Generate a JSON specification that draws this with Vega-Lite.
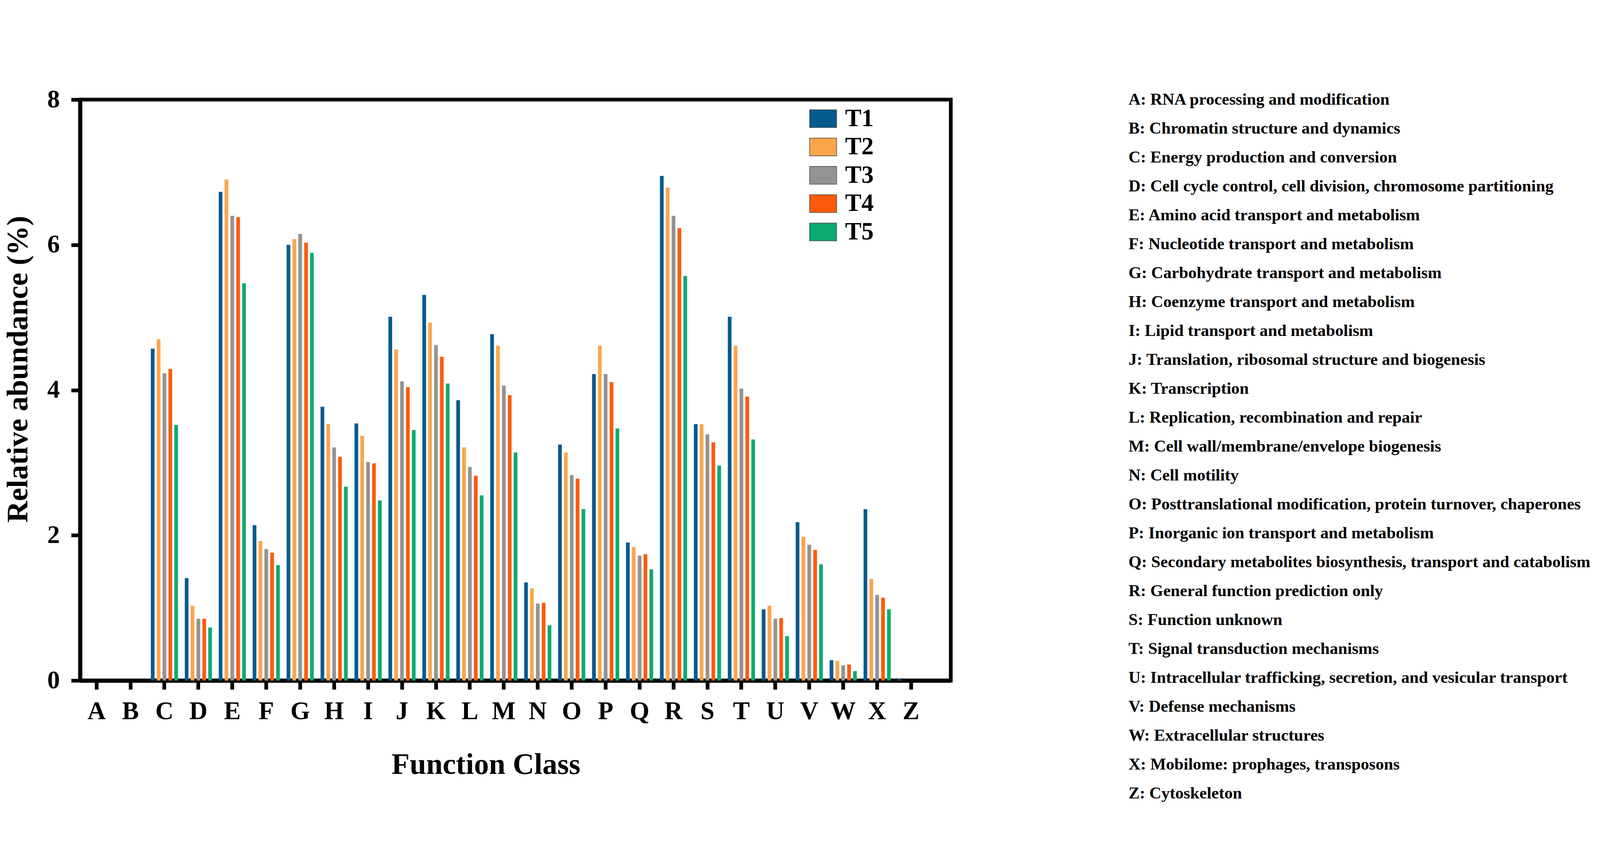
{
  "$schema": "https://vega.github.io/schema/vega-lite/v6.json",
  "background": "white",
  "padding": {"left": 3, "top": 217, "right": 3, "bottom": 20},
  "spacing": 450,
  "datasets": {
    "abundance": [
      {"class": "A", "treatment": "T1", "abundance": 0}, {"class": "A", "treatment": "T2", "abundance": 0}, {"class": "A", "treatment": "T3", "abundance": 0}, {"class": "A", "treatment": "T4", "abundance": 0}, {"class": "A", "treatment": "T5", "abundance": 0},
      {"class": "B", "treatment": "T1", "abundance": 0}, {"class": "B", "treatment": "T2", "abundance": 0}, {"class": "B", "treatment": "T3", "abundance": 0}, {"class": "B", "treatment": "T4", "abundance": 0}, {"class": "B", "treatment": "T5", "abundance": 0},
      {"class": "C", "treatment": "T1", "abundance": 4.57}, {"class": "C", "treatment": "T2", "abundance": 4.70}, {"class": "C", "treatment": "T3", "abundance": 4.23}, {"class": "C", "treatment": "T4", "abundance": 4.29}, {"class": "C", "treatment": "T5", "abundance": 3.52},
      {"class": "D", "treatment": "T1", "abundance": 1.41}, {"class": "D", "treatment": "T2", "abundance": 1.03}, {"class": "D", "treatment": "T3", "abundance": 0.85}, {"class": "D", "treatment": "T4", "abundance": 0.85}, {"class": "D", "treatment": "T5", "abundance": 0.73},
      {"class": "E", "treatment": "T1", "abundance": 6.73}, {"class": "E", "treatment": "T2", "abundance": 6.90}, {"class": "E", "treatment": "T3", "abundance": 6.40}, {"class": "E", "treatment": "T4", "abundance": 6.38}, {"class": "E", "treatment": "T5", "abundance": 5.47},
      {"class": "F", "treatment": "T1", "abundance": 2.14}, {"class": "F", "treatment": "T2", "abundance": 1.92}, {"class": "F", "treatment": "T3", "abundance": 1.81}, {"class": "F", "treatment": "T4", "abundance": 1.76}, {"class": "F", "treatment": "T5", "abundance": 1.59},
      {"class": "G", "treatment": "T1", "abundance": 6.00}, {"class": "G", "treatment": "T2", "abundance": 6.08}, {"class": "G", "treatment": "T3", "abundance": 6.15}, {"class": "G", "treatment": "T4", "abundance": 6.03}, {"class": "G", "treatment": "T5", "abundance": 5.89},
      {"class": "H", "treatment": "T1", "abundance": 3.77}, {"class": "H", "treatment": "T2", "abundance": 3.53}, {"class": "H", "treatment": "T3", "abundance": 3.21}, {"class": "H", "treatment": "T4", "abundance": 3.08}, {"class": "H", "treatment": "T5", "abundance": 2.67},
      {"class": "I", "treatment": "T1", "abundance": 3.54}, {"class": "I", "treatment": "T2", "abundance": 3.37}, {"class": "I", "treatment": "T3", "abundance": 3.01}, {"class": "I", "treatment": "T4", "abundance": 2.99}, {"class": "I", "treatment": "T5", "abundance": 2.48},
      {"class": "J", "treatment": "T1", "abundance": 5.01}, {"class": "J", "treatment": "T2", "abundance": 4.56}, {"class": "J", "treatment": "T3", "abundance": 4.12}, {"class": "J", "treatment": "T4", "abundance": 4.04}, {"class": "J", "treatment": "T5", "abundance": 3.45},
      {"class": "K", "treatment": "T1", "abundance": 5.31}, {"class": "K", "treatment": "T2", "abundance": 4.93}, {"class": "K", "treatment": "T3", "abundance": 4.62}, {"class": "K", "treatment": "T4", "abundance": 4.46}, {"class": "K", "treatment": "T5", "abundance": 4.09},
      {"class": "L", "treatment": "T1", "abundance": 3.86}, {"class": "L", "treatment": "T2", "abundance": 3.21}, {"class": "L", "treatment": "T3", "abundance": 2.94}, {"class": "L", "treatment": "T4", "abundance": 2.82}, {"class": "L", "treatment": "T5", "abundance": 2.55},
      {"class": "M", "treatment": "T1", "abundance": 4.77}, {"class": "M", "treatment": "T2", "abundance": 4.61}, {"class": "M", "treatment": "T3", "abundance": 4.06}, {"class": "M", "treatment": "T4", "abundance": 3.93}, {"class": "M", "treatment": "T5", "abundance": 3.14},
      {"class": "N", "treatment": "T1", "abundance": 1.35}, {"class": "N", "treatment": "T2", "abundance": 1.27}, {"class": "N", "treatment": "T3", "abundance": 1.06}, {"class": "N", "treatment": "T4", "abundance": 1.07}, {"class": "N", "treatment": "T5", "abundance": 0.76},
      {"class": "O", "treatment": "T1", "abundance": 3.25}, {"class": "O", "treatment": "T2", "abundance": 3.14}, {"class": "O", "treatment": "T3", "abundance": 2.83}, {"class": "O", "treatment": "T4", "abundance": 2.78}, {"class": "O", "treatment": "T5", "abundance": 2.36},
      {"class": "P", "treatment": "T1", "abundance": 4.22}, {"class": "P", "treatment": "T2", "abundance": 4.61}, {"class": "P", "treatment": "T3", "abundance": 4.22}, {"class": "P", "treatment": "T4", "abundance": 4.11}, {"class": "P", "treatment": "T5", "abundance": 3.47},
      {"class": "Q", "treatment": "T1", "abundance": 1.90}, {"class": "Q", "treatment": "T2", "abundance": 1.84}, {"class": "Q", "treatment": "T3", "abundance": 1.72}, {"class": "Q", "treatment": "T4", "abundance": 1.74}, {"class": "Q", "treatment": "T5", "abundance": 1.53},
      {"class": "R", "treatment": "T1", "abundance": 6.95}, {"class": "R", "treatment": "T2", "abundance": 6.79}, {"class": "R", "treatment": "T3", "abundance": 6.40}, {"class": "R", "treatment": "T4", "abundance": 6.23}, {"class": "R", "treatment": "T5", "abundance": 5.57},
      {"class": "S", "treatment": "T1", "abundance": 3.53}, {"class": "S", "treatment": "T2", "abundance": 3.53}, {"class": "S", "treatment": "T3", "abundance": 3.39}, {"class": "S", "treatment": "T4", "abundance": 3.28}, {"class": "S", "treatment": "T5", "abundance": 2.96},
      {"class": "T", "treatment": "T1", "abundance": 5.01}, {"class": "T", "treatment": "T2", "abundance": 4.61}, {"class": "T", "treatment": "T3", "abundance": 4.02}, {"class": "T", "treatment": "T4", "abundance": 3.91}, {"class": "T", "treatment": "T5", "abundance": 3.32},
      {"class": "U", "treatment": "T1", "abundance": 0.98}, {"class": "U", "treatment": "T2", "abundance": 1.03}, {"class": "U", "treatment": "T3", "abundance": 0.85}, {"class": "U", "treatment": "T4", "abundance": 0.86}, {"class": "U", "treatment": "T5", "abundance": 0.61},
      {"class": "V", "treatment": "T1", "abundance": 2.18}, {"class": "V", "treatment": "T2", "abundance": 1.98}, {"class": "V", "treatment": "T3", "abundance": 1.87}, {"class": "V", "treatment": "T4", "abundance": 1.80}, {"class": "V", "treatment": "T5", "abundance": 1.60},
      {"class": "W", "treatment": "T1", "abundance": 0.28}, {"class": "W", "treatment": "T2", "abundance": 0.27}, {"class": "W", "treatment": "T3", "abundance": 0.21}, {"class": "W", "treatment": "T4", "abundance": 0.22}, {"class": "W", "treatment": "T5", "abundance": 0.13},
      {"class": "X", "treatment": "T1", "abundance": 2.36}, {"class": "X", "treatment": "T2", "abundance": 1.40}, {"class": "X", "treatment": "T3", "abundance": 1.18}, {"class": "X", "treatment": "T4", "abundance": 1.14}, {"class": "X", "treatment": "T5", "abundance": 0.98},
      {"class": "Z", "treatment": "T1", "abundance": 0.02}, {"class": "Z", "treatment": "T2", "abundance": 0}, {"class": "Z", "treatment": "T3", "abundance": 0}, {"class": "Z", "treatment": "T4", "abundance": 0}, {"class": "Z", "treatment": "T5", "abundance": 0}
    ],
    "classes": [
      {"code": "A", "label": "A: RNA processing and modification"},
      {"code": "B", "label": "B: Chromatin structure and dynamics"},
      {"code": "C", "label": "C: Energy production and conversion"},
      {"code": "D", "label": "D: Cell cycle control, cell division, chromosome partitioning"},
      {"code": "E", "label": "E: Amino acid transport and metabolism"},
      {"code": "F", "label": "F: Nucleotide transport and metabolism"},
      {"code": "G", "label": "G: Carbohydrate transport and metabolism"},
      {"code": "H", "label": "H: Coenzyme transport and metabolism"},
      {"code": "I", "label": "I: Lipid transport and metabolism"},
      {"code": "J", "label": "J: Translation, ribosomal structure and biogenesis"},
      {"code": "K", "label": "K: Transcription"},
      {"code": "L", "label": "L: Replication, recombination and repair"},
      {"code": "M", "label": "M: Cell wall/membrane/envelope biogenesis"},
      {"code": "N", "label": "N: Cell motility"},
      {"code": "O", "label": "O: Posttranslational modification, protein turnover, chaperones"},
      {"code": "P", "label": "P: Inorganic ion transport and metabolism"},
      {"code": "Q", "label": "Q: Secondary metabolites biosynthesis, transport and catabolism"},
      {"code": "R", "label": "R: General function prediction only"},
      {"code": "S", "label": "S: Function unknown"},
      {"code": "T", "label": "T: Signal transduction mechanisms"},
      {"code": "U", "label": "U: Intracellular trafficking, secretion, and vesicular transport"},
      {"code": "V", "label": "V: Defense mechanisms"},
      {"code": "W", "label": "W: Extracellular structures"},
      {"code": "X", "label": "X: Mobilome: prophages, transposons"},
      {"code": "Z", "label": "Z: Cytoskeleton"}
    ]
  },
  "config": {
    "font": "Liberation Serif",
    "view": {"stroke": "black", "strokeWidth": 9.5},
    "axis": {
      "grid": false,
      "domainColor": "black",
      "domainWidth": 10.4,
      "tickColor": "black",
      "tickWidth": 9.5,
      "tickSize": 22.8,
      "labelFont": "Liberation Serif",
      "labelFontSize": 64.5,
      "labelFontWeight": "bold",
      "labelColor": "black",
      "titleFont": "Liberation Serif",
      "titleFontSize": 76,
      "titleFontWeight": "bold",
      "titleColor": "black"
    }
  },
  "hconcat": [
    {
      "width": 2229,
      "height": 1487,
      "data": {"name": "abundance"},
      "mark": {"type": "bar"},
      "encoding": {
        "x": {
          "field": "class",
          "type": "nominal",
          "sort": ["A","B","C","D","E","F","G","H","I","J","K","L","M","N","O","P","Q","R","S","T","U","V","W","X","Z"],
          "scale": {"paddingInner": 0.2, "paddingOuter": 0.4275, "align": 0.1, "round": false},
          "axis": {
            "title": "Function Class",
            "labelAngle": 0,
            "labelPadding": 24.7,
            "titleX": 1038.6,
            "titleY": 238,
            "titleAlign": "center",
            "titleBaseline": "alphabetic"
          }
        },
        "xOffset": {
          "field": "treatment",
          "type": "nominal",
          "sort": ["T1","T2","T3","T4","T5"],
          "scale": {"paddingInner": 0.37, "paddingOuter": 0, "round": false}
        },
        "y": {
          "field": "abundance",
          "type": "quantitative",
          "scale": {"domain": [0, 8], "nice": false},
          "axis": {
            "values": [0, 2, 4, 6, 8],
            "title": "Relative abundance (%)",
            "labelPadding": 29.4,
            "titleAngle": 270,
            "titleX": -135.6,
            "titleY": 689.6,
            "titleAlign": "center",
            "titleBaseline": "alphabetic"
          }
        },
        "color": {
          "field": "treatment",
          "type": "nominal",
          "scale": {
            "domain": ["T1","T2","T3","T4","T5"],
            "range": ["#045a8d","#fba54b","#939393","#fe5a0c","#0daa70"]
          },
          "legend": {
            "title": null,
            "orient": "none",
            "legendX": 1866.7,
            "legendY": 13.3,
            "padding": 0,
            "symbolType": "M-1,-0.6575H1V0.6575H-1Z",
            "symbolSize": 4790,
            "symbolStrokeColor": "#444444",
            "symbolStrokeWidth": 1.4,
            "symbolFillOpacity": 1,
            "labelFont": "Liberation Serif",
            "labelFontSize": 62.6,
            "labelFontWeight": "bold",
            "labelColor": "black",
            "labelOffset": 20.9,
            "rowPadding": 4.5
          }
        }
      }
    },
    {
      "width": 1205,
      "height": 1775.6,
      "view": {"stroke": null},
      "data": {"name": "classes"},
      "mark": {
        "type": "text",
        "align": "left",
        "baseline": "middle",
        "font": "Liberation Serif",
        "fontSize": 42.7,
        "fontWeight": "bold",
        "color": "black"
      },
      "encoding": {
        "y": {
          "field": "code",
          "type": "nominal",
          "sort": null,
          "scale": {"type": "point", "padding": 0},
          "axis": null
        },
        "x": {"value": 0},
        "text": {"field": "label"}
      }
    }
  ]
}
